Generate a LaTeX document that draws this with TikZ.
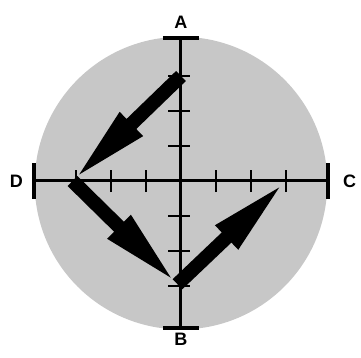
\documentclass[tikz,border=0pt]{standalone}
\usepackage{fontspec}
\setmainfont{Liberation Sans}
\usetikzlibrary{positioning, arrows.meta}

\begin{document}
\begin{tikzpicture}[
    x=35pt, y=35pt,
    axisline/.style={line width=3pt, line cap=butt},
    endcap/.style={line width=3.4pt},
    tickmark/.style={line width=2.6pt},
    bigarrow/.style={line width=14pt, line cap=butt,
                     -{Triangle[length=82pt 0 0, width=29pt 0 0]}},
    lbl/.style={inner sep=0pt, font=\fontsize{18}{18}\selectfont\bfseries},
  ]
    \useasboundingbox (-5.171,-5.057) rectangle (5.143,5.171);
    % stippled disc
    \fill[black!22] (0,-0.06) circle (4.18);

    % axes with end caps
    \coordinate (top) at (0,4.09);
    \coordinate (bot) at (0,-4.2);
    \coordinate (lft) at (-4.2,0);
    \coordinate (rgt) at (4.2,0);
    \draw[axisline] (top) -- (bot);
    \draw[axisline] (lft) -- (rgt);
    \draw[endcap] ([xshift=-18pt]top) -- ([xshift=18pt]top);
    \draw[endcap] ([xshift=-18pt]bot) -- ([xshift=18pt]bot);
    \draw[endcap] ([yshift=-18pt]lft) -- ([yshift=18pt]lft);
    \draw[endcap] ([yshift=-18pt]rgt) -- ([yshift=18pt]rgt);

    % ticks
    \foreach \t in {-3,-2,-1,1,2,3} {
      \draw[tickmark] (\t,-0.32) -- (\t,0.32);
      \draw[tickmark] (-0.37,\t) -- (0.27,\t);
    }

    % points on the axes
    \coordinate (A) at (0,3);
    \coordinate (B) at (-0.1,-2.95);
    \coordinate (C) at (3,0);
    \coordinate (D) at (-3.1,0);

    % vector arrows
    \draw[bigarrow] (A) -- (D);
    \draw[bigarrow] (D) -- (B);
    \draw[bigarrow] (B) -- (C);

    % axis labels
    \node[lbl, above=9pt of top] (labA) {A};
    \node[lbl, below=5pt of bot] (labB) {B};
    \node[lbl, right=15pt of rgt] (labC) {C};
    \node[lbl, left=11pt of lft] (labD) {D};
  \end{tikzpicture}
\end{document}
